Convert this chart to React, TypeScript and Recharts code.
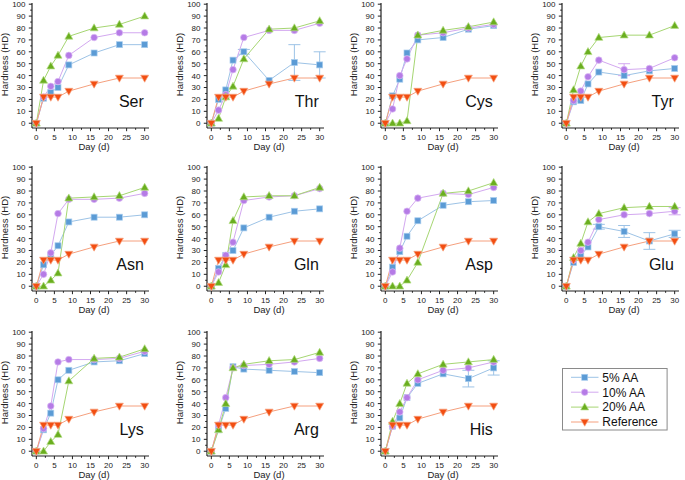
import React from "react";
import { LineChart, Line, XAxis, YAxis, ErrorBar } from "recharts";

const days = [0, 2, 4, 6, 9, 16, 23, 30];
const reference = [0, 22, 22, 22, 27, 33, 38, 38];

const ser5 = [0, 21, 26, 30, 49, 59, 66, 66];
const ser10 = [0, 22, 31, 35, 57, 72, 76, 76];
const ser20 = [0, 36, 48, 57, 73, 80, 83, 90];

const thr5 = [0, 20, 28, 53, 60, 36, 51, 49];
const thr10 = [0, 11, 24, 45, 72, 78, 78, 84];
const thr20 = [0, 4, 22, 31, 54, 79, 80, 86];
const thrErr5 = [0, 0, 0, 0, 2, 0, 15, 11];

const cys5 = [0, 23, 37, 59, 70, 72, 79, 82];
const cys10 = [0, 12, 40, 54, 74, 76, 80, 83];
const cys20 = [0, 0, 0, 2, 74, 78, 81, 85];

const tyr5 = [0, 18, 19, 33, 43, 40, 44, 46];
const tyr10 = [0, 19, 27, 39, 53, 45, 46, 55];
const tyr20 = [0, 28, 48, 60, 72, 74, 74, 82];
const tyrErr10 = [0, 0, 0, 0, 0, 5, 0, 0];

const asn5 = [0, 18, 26, 34, 54, 58, 58, 60];
const asn10 = [0, 10, 28, 61, 73, 73, 74, 78];
const asn20 = [0, 0, 5, 11, 74, 75, 76, 83];

const gln5 = [0, 15, 26, 30, 49, 58, 63, 65];
const gln10 = [0, 12, 26, 37, 72, 75, 76, 82];
const gln20 = [0, 3, 18, 55, 75, 76, 76, 83];

const asp5 = [0, 16, 29, 42, 55, 68, 71, 72];
const asp10 = [0, 12, 32, 63, 74, 78, 77, 83];
const asp20 = [0, 0, 0, 5, 20, 78, 80, 87];

const glu5 = [0, 20, 26, 33, 50, 46, 38, 44];
const glu10 = [0, 22, 30, 37, 56, 60, 61, 63];
const glu20 = [0, 24, 36, 54, 61, 66, 67, 67];
const gluErr5 = [0, 0, 0, 0, 2, 5, 7, 3];
const gluErr10 = [0, 0, 0, 0, 0, 0, 0, 3];

const lys5 = [0, 18, 32, 60, 68, 75, 76, 82];
const lys10 = [0, 19, 38, 75, 77, 77, 78, 84];
const lys20 = [0, 0, 8, 14, 59, 78, 79, 86];

const arg5 = [0, 18, 36, 71, 69, 68, 67, 66];
const arg10 = [0, 22, 45, 70, 72, 73, 75, 78];
const arg20 = [0, 18, 40, 70, 73, 76, 77, 83];

const his5 = [0, 21, 28, 45, 57, 65, 61, 70];
const his10 = [0, 21, 33, 45, 60, 68, 70, 75];
const his20 = [0, 25, 40, 57, 65, 73, 75, 77];
const hisErr5 = [0, 0, 0, 0, 0, 0, 7, 6];

const xTicks = [0, 2.5, 5, 7.5, 10, 12.5, 15, 17.5, 20, 22.5, 25, 27.5, 30];
const yTicks = [0, 5, 10, 15, 20, 25, 30, 35, 40, 45, 50, 55, 60, 65, 70, 75, 80, 85, 90, 95, 100];

type PanelDef = {
  name: string;
  aa5: number[];
  aa10: number[];
  aa20: number[];
  err5?: number[];
  err10?: number[];
  col: number;
  row: number;
};

const panels: PanelDef[] = [
  { name: "Ser", aa5: ser5, aa10: ser10, aa20: ser20, col: 0, row: 0 },
  { name: "Thr", aa5: thr5, aa10: thr10, aa20: thr20, err5: thrErr5, col: 1, row: 0 },
  { name: "Cys", aa5: cys5, aa10: cys10, aa20: cys20, col: 2, row: 0 },
  { name: "Tyr", aa5: tyr5, aa10: tyr10, aa20: tyr20, err10: tyrErr10, col: 3, row: 0 },
  { name: "Asn", aa5: asn5, aa10: asn10, aa20: asn20, col: 0, row: 1 },
  { name: "Gln", aa5: gln5, aa10: gln10, aa20: gln20, col: 1, row: 1 },
  { name: "Asp", aa5: asp5, aa10: asp10, aa20: asp20, col: 2, row: 1 },
  { name: "Glu", aa5: glu5, aa10: glu10, aa20: glu20, err5: gluErr5, err10: gluErr10, col: 3, row: 1 },
  { name: "Lys", aa5: lys5, aa10: lys10, aa20: lys20, col: 0, row: 2 },
  { name: "Arg", aa5: arg5, aa10: arg10, aa20: arg20, col: 1, row: 2 },
  { name: "His", aa5: his5, aa10: his10, aa20: his20, err5: hisErr5, col: 2, row: 2 },
];

const colLeft = [0, 175, 349, 530];
const rowTop = [0, 163, 328];

const FONT = "'Liberation Sans', Arial, sans-serif";
const AXIS = "#222";

const C5 = { fill: "#5b9bd5", edge: "#a9cdee", line: "#9dc3e6" };
const C10 = { fill: "#b57be6", edge: "#dcbdf5", line: "#d3a8f0" };
const C20 = { fill: "#6aae1f", edge: "#b5de86", line: "#a6d672" };
const CREF = { fill: "#f24e12", edge: "#f8a47f", line: "#f5a07e" };

const ok = (p: any) => Number.isFinite(p.cx) && Number.isFinite(p.cy);

const squareDot = (p: any) =>
  ok(p) ? (
    <rect key={p.index} x={p.cx - 3} y={p.cy - 3} width={6} height={6} fill={C5.fill} stroke={C5.edge} strokeWidth={0.7} />
  ) : null;

const circleDot = (p: any) =>
  ok(p) ? <circle key={p.index} cx={p.cx} cy={p.cy} r={3.3} fill={C10.fill} stroke={C10.edge} strokeWidth={0.7} /> : null;

const upDot = (p: any) =>
  ok(p) ? (
    <polygon
      key={p.index}
      points={`${p.cx},${p.cy - 4.2} ${p.cx + 4},${p.cy + 2.8} ${p.cx - 4},${p.cy + 2.8}`}
      fill={C20.fill}
      stroke={C20.edge}
      strokeWidth={0.7}
    />
  ) : null;

const downDot = (p: any) =>
  ok(p) ? (
    <polygon
      key={p.index}
      points={`${p.cx - 4},${p.cy - 2.8} ${p.cx + 4},${p.cy - 2.8} ${p.cx},${p.cy + 4.2}`}
      fill={CREF.fill}
      stroke={CREF.edge}
      strokeWidth={0.7}
    />
  ) : null;

const YTick = ({ x, y, payload }: any) => {
  const major = payload.value % 10 === 0;
  return (
    <g>
      <line x1={x} x2={x - (major ? 3.2 : 1.8)} y1={y} y2={y} stroke={AXIS} strokeWidth={1} />
      {major && (
        <text x={x - 6.5} y={y + 2.9} textAnchor="end" fontSize={8} fill={AXIS} fontFamily={FONT}>
          {payload.value}
        </text>
      )}
    </g>
  );
};

const XTick = ({ x, y, payload }: any) => {
  const major = payload.value % 5 === 0;
  return (
    <g>
      <line x1={x} x2={x} y1={y} y2={y + (major ? 3.2 : 1.8)} stroke={AXIS} strokeWidth={1} />
      {major && (
        <text x={x} y={y + 12} textAnchor="middle" fontSize={8} fill={AXIS} fontFamily={FONT}>
          {payload.value}
        </text>
      )}
    </g>
  );
};

const W = 154;
const H = 152;

const Panel: React.FC<{ p: PanelDef }> = ({ p }) => {
  const data = days.map((d, i) => ({
    day: d,
    aa5: p.aa5[i],
    aa10: p.aa10[i],
    aa20: p.aa20[i],
    ref: reference[i],
    e5: p.err5 ? p.err5[i] : 0,
    e10: p.err10 ? p.err10[i] : 0,
  }));

  return (
    <div style={{ position: "absolute", left: colLeft[p.col], top: rowTop[p.row], width: W, height: H }}>
      <LineChart width={W} height={H} data={data} margin={{ top: 3, right: 5, bottom: 0, left: 0 }}>
        <XAxis
          dataKey="day"
          type="number"
          domain={[-1.2, 31.2]}
          ticks={xTicks}
          interval={0}
          allowDataOverflow
          height={24}
          tickSize={0}
          tickMargin={0}
          tickLine={false}
          tick={<XTick />}
          axisLine={{ stroke: AXIS, strokeWidth: 1.2 }}
        />
        <YAxis
          type="number"
          domain={[-4, 101]}
          ticks={yTicks}
          interval={0}
          allowDataOverflow
          width={32}
          tickSize={0}
          tickMargin={0}
          tickLine={false}
          tick={<YTick />}
          axisLine={{ stroke: AXIS, strokeWidth: 1.2 }}
        />
        <Line dataKey="aa5" stroke={C5.line} strokeWidth={1} dot={squareDot} activeDot={false} isAnimationActive={false}>
          {p.err5 && <ErrorBar dataKey="e5" direction="y" width={6} stroke={C5.line} strokeWidth={1} />}
        </Line>
        <Line dataKey="aa10" stroke={C10.line} strokeWidth={1} dot={circleDot} activeDot={false} isAnimationActive={false}>
          {p.err10 && <ErrorBar dataKey="e10" direction="y" width={6} stroke={C10.line} strokeWidth={1} />}
        </Line>
        <Line dataKey="aa20" stroke={C20.line} strokeWidth={1} dot={upDot} activeDot={false} isAnimationActive={false} />
        <Line dataKey="ref" stroke={CREF.line} strokeWidth={1} dot={downDot} activeDot={false} isAnimationActive={false} />
      </LineChart>
      <svg
        width={W}
        height={H + 4}
        style={{ position: "absolute", left: 0, top: 0, pointerEvents: "none", overflow: "visible" }}
      >
        <text
          x={4.5}
          y={64.5}
          transform="rotate(-90 4.5 64.5)"
          textAnchor="middle"
          dy={3.3}
          fontSize={9.5}
          fill={AXIS}
          fontFamily={FONT}
        >
          Hardness (HD)
        </text>
        <text x={94} y={150} textAnchor="middle" fontSize={9.5} fill={AXIS} fontFamily={FONT}>
          Day (d)
        </text>
        <text x={143.8} y={106.7} textAnchor="end" fontSize={16} fill="#111" fontFamily={FONT}>
          {p.name}
        </text>
      </svg>
    </div>
  );
};

const legendItems = [
  { label: "5% AA", c: C5, dot: squareDot },
  { label: "10% AA", c: C10, dot: circleDot },
  { label: "20% AA", c: C20, dot: upDot },
  { label: "Reference", c: CREF, dot: downDot },
];

const Legend: React.FC = () => (
  <svg width={108} height={64} style={{ position: "absolute", left: 562, top: 368 }}>
    <rect x={0.5} y={0.5} width={104.6} height={61.5} fill="#fff" stroke="#8a8a8a" strokeWidth={1} />
    {legendItems.map((it, i) => {
      const cy = 9.3 + i * 14.9;
      return (
        <g key={it.label}>
          <line x1={9} x2={36.5} y1={cy} y2={cy} stroke={it.c.line} strokeWidth={1} />
          {it.dot({ cx: 22.7, cy, index: i })}
          <text x={40.3} y={cy + 4.3} fontSize={12} fill="#111" fontFamily={FONT}>
            {it.label}
          </text>
        </g>
      );
    })}
  </svg>
);

const App: React.FC = () => (
  <div
    style={{
      position: "absolute",
      left: 0,
      top: 0,
      width: 685,
      height: 480,
      overflow: "hidden",
      background: "#fff",
      fontFamily: FONT,
    }}
  >
    {panels.map((p) => (
      <Panel key={p.name} p={p} />
    ))}
    <Legend />
  </div>
);

export default App;
